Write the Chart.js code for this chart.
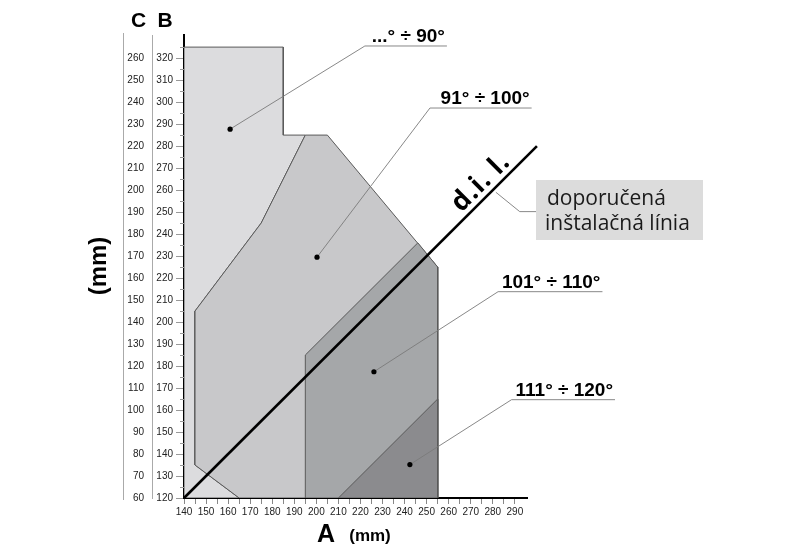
<!DOCTYPE html>
<html>
<head>
<meta charset="utf-8">
<script src="https://cdn.jsdelivr.net/npm/chart.js@4.4.1/dist/chart.umd.min.js"></script>
<style>
  html, body { margin: 0; padding: 0; background: #fff; }
  #wrap { width: 798px; height: 549px; }
</style>
</head>
<body>
<div id="wrap"><canvas id="graf" width="798" height="549"></canvas></div>
<script>
// osi: A (mm) vodorovne, B a C (mm) zvisle, C = B - 60
const xMin = 140, xMax = 295.5;
const bMin = 120, bMax = 330.5;
const cPosun = 60;
const xTickMax = 295;
const bTickMax = 325;
const cTickMax = 260;

// oblasti (body A, B)
const oblast90 = [[140,120],[140,325],[185,325],[185,285],[195,285],[175,245],[145,205],[145,135],[165,120]];
const oblast100 = [[165,120],[145,135],[145,205],[175,245],[195,285],[205,285],[255,225],[255,120]];
const oblast110 = [[195,120],[195,185],[246,236],[255,225],[255,120]];
const oblast120 = [[210,120],[255,165],[255,120]];

// doporucena instalacna linia
const dil = [[140,120],[300,280]];
const dilOdkaz = [[281.4,259],[292.2,250.2],[300,250.2]];
const dilText = [279, 259];

// popisky uhlov a odkazy na oblasti
const uhly = ['...° ÷ 90°', '91° ÷ 100°', '101° ÷ 110°', '111° ÷ 120°'];
const bodky = [[160.9,287.7],[200.3,229.5],[226.1,177.4],[242.4,135.2]];
const zlomy = [[222,325.5],[251.5,297.3],[282.4,213.8],[288.5,164.7]];
const konce = [259.2, 297.6, 329.7, 335.4];

const pts = arr => arr.map(p => ({x: p[0], y: p[1]}));

function oblast(arr, farba, poradie) {
  return {
    data: pts(arr.concat([arr[0]])),
    backgroundColor: farba,
    borderColor: '#5a5a5a',
    borderWidth: 1,
    fill: 'shape',
    pointRadius: 0,
    tension: 0,
    order: poradie
  };
}

const odkazy = uhly.map((t, i) => ({
  data: pts([bodky[i], zlomy[i], [konce[i], zlomy[i][1]]]),
  borderColor: '#7a7a7a',
  borderWidth: 0.9,
  pointRadius: [2.6, 0, 0],
  pointBackgroundColor: '#000',
  pointBorderWidth: 0,
  fill: false,
  clip: false,
  order: 1
}));

// popisky, ktore Chart.js sam nekresli
const popisky = {
  id: 'popisky',
  afterDraw(chart) {
    const {ctx, scales: {x, y, c}} = chart;
    ctx.save();

    // lava ciara stlpca C
    ctx.strokeStyle = '#aaa';
    ctx.lineWidth = 1;
    ctx.beginPath();
    ctx.moveTo(c.left + 0.5, y.top - 2);
    ctx.lineTo(c.left + 0.5, y.bottom + 2);
    ctx.stroke();

    // kratke ciarky na osi B
    ctx.strokeStyle = '#999';
    y.ticks.forEach(t => {
      if (t.value % 10 !== 0) {
        const py = Math.round(y.getPixelForValue(t.value)) + 0.5;
        ctx.beginPath();
        ctx.moveTo(y.right - 4, py);
        ctx.lineTo(y.right, py);
        ctx.stroke();
      }
    });

    ctx.fillStyle = '#000';
    ctx.textAlign = 'center';
    ctx.textBaseline = 'alphabetic';
    ctx.font = 'bold 21px "Liberation Sans", Arial, sans-serif';
    ctx.fillText('C', c.left + (c.right - c.left) / 2 + 1, 27);
    ctx.fillText('B', y.left + (y.right - y.left) / 2 - 3, 27);

    ctx.font = 'bold 25px "Liberation Sans", Arial, sans-serif';
    ctx.fillText('A', 326, 542);
    ctx.font = 'bold 17px "Liberation Sans", Arial, sans-serif';
    ctx.fillText('(mm)', 370, 541);

    ctx.save();
    ctx.translate(106, 266);
    ctx.rotate(-Math.PI / 2);
    ctx.font = 'bold 24px "Liberation Sans", Arial, sans-serif';
    ctx.fillText('(mm)', 0, 0);
    ctx.restore();

    // uhly nad odkazmi
    ctx.textAlign = 'right';
    ctx.font = 'bold 19px "Liberation Sans", Arial, sans-serif';
    uhly.forEach((t, i) => {
      const px = x.getPixelForValue(konce[i]) - 2;
      const py = y.getPixelForValue(zlomy[i][1]) - 4;
      ctx.fillText(t, px, py);
    });

    // d.i. l. pozdlz ciary
    const x0 = x.getPixelForValue(dil[0][0]), y0 = y.getPixelForValue(dil[0][1]);
    const x1 = x.getPixelForValue(dil[1][0]), y1 = y.getPixelForValue(dil[1][1]);
    const uhol = Math.atan2(y1 - y0, x1 - x0);
    ctx.save();
    ctx.translate(x.getPixelForValue(dilText[0]), y.getPixelForValue(dilText[1]));
    ctx.rotate(uhol);
    ctx.textAlign = 'center';
    ctx.font = 'bold 27px "Open Sans", sans-serif';
    ctx.letterSpacing = '1px';
    ctx.fillText('d.i. l.', 0, -6);
    ctx.restore();

    // sedy ramcek s vysvetlivkou
    ctx.fillStyle = '#dcdcdc';
    ctx.fillRect(536, 180, 167, 60);
    ctx.fillStyle = '#1a1a1a';
    ctx.textAlign = 'left';
    ctx.font = '21px "Open Sans", sans-serif';
    ctx.fillText('doporučená', 547, 205);
    ctx.fillText('inštalačná línia', 545, 230);

    ctx.restore();
  }
};

const ctx = document.getElementById('graf').getContext('2d');

new Chart(ctx, {
  type: 'line',
  data: {
    datasets: [
      ...odkazy,
      {
        data: pts(dilOdkaz),
        borderColor: '#7a7a7a',
        borderWidth: 0.9,
        pointRadius: 0,
        fill: false,
        clip: false,
        order: 1
      },
      {
        data: pts(dil),
        borderColor: '#000',
        borderWidth: 2.6,
        pointRadius: 0,
        fill: false,
        clip: false,
        order: 2
      },
      oblast(oblast120, '#8b8b8e', 7),
      oblast(oblast110, '#a5a7a9', 8),
      oblast(oblast100, '#c8c8ca', 9),
      oblast(oblast90, '#dcdcde', 10)
    ]
  },
  options: {
    responsive: false,
    animation: false,
    events: [],
    layout: { padding: { left: 123, top: 35, right: 271, bottom: 31 } },
    plugins: {
      legend: { display: false },
      tooltip: { enabled: false }
    },
    scales: {
      x: {
        type: 'linear',
        min: xMin,
        max: xMax,
        z: 1,
        afterFit: s => { s.height = 20; },
        afterBuildTicks: s => { s.ticks = s.ticks.filter(t => t.value <= xTickMax); },
        border: { color: '#000', width: 2 },
        grid: { drawOnChartArea: false, tickLength: 6, color: '#888', lineWidth: 1 },
        ticks: {
          stepSize: 5,
          autoSkip: false,
          maxRotation: 0,
          padding: 2,
          color: '#222',
          font: { family: '"Liberation Sans", Arial, sans-serif', size: 10 },
          callback: v => (v % 10 === 0 ? v : '')
        }
      },
      y: {
        type: 'linear',
        position: 'left',
        weight: 0,
        min: bMin,
        max: bMax,
        z: 1,
        afterFit: s => { s.width = 32; },
        afterBuildTicks: s => { s.ticks = s.ticks.filter(t => t.value <= bTickMax); },
        border: { color: '#000', width: 2 },
        grid: {
          drawOnChartArea: false,
          tickLength: 8,
          lineWidth: 1,
          color: c => (c.tick && c.tick.value % 10 === 0 ? '#999' : 'rgba(0,0,0,0)')
        },
        ticks: {
          stepSize: 5,
          autoSkip: false,
          padding: 3,
          color: '#222',
          font: { family: '"Liberation Sans", Arial, sans-serif', size: 10 },
          callback: v => (v % 10 === 0 ? v : '')
        }
      },
      c: {
        type: 'linear',
        position: 'left',
        weight: 1,
        min: bMin - cPosun,
        max: bMax - cPosun,
        afterFit: s => { s.width = 29; },
        afterBuildTicks: s => { s.ticks = s.ticks.filter(t => t.value <= cTickMax); },
        border: { color: '#aaa', width: 1 },
        grid: { display: false, drawTicks: false },
        ticks: {
          stepSize: 10,
          autoSkip: false,
          padding: 8,
          color: '#222',
          font: { family: '"Liberation Sans", Arial, sans-serif', size: 10 }
        }
      }
    }
  },
  plugins: [popisky]
});
</script>
</body>
</html>
